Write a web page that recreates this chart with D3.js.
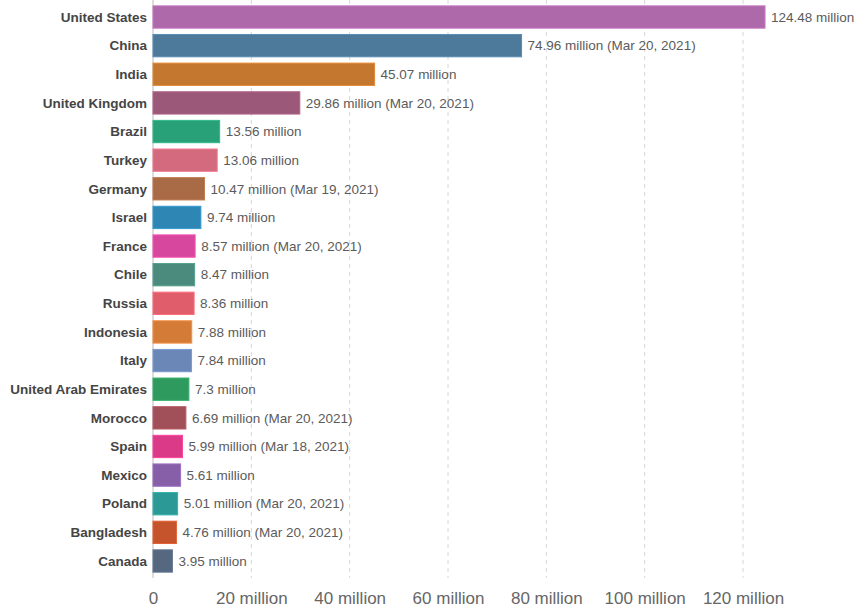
<!DOCTYPE html>
<html><head><meta charset="utf-8">
<script src="https://cdn.jsdelivr.net/npm/d3@7"></script>
<style>body{margin:0;background:#fff}svg{display:block}</style>
</head><body><div id="chart"></div>
<script>
const countries = ["United States","China","India","United Kingdom","Brazil","Turkey","Germany","Israel","France","Chile","Russia","Indonesia","Italy","United Arab Emirates","Morocco","Spain","Mexico","Poland","Bangladesh","Canada"];
const values = [124.48,74.96,45.07,29.86,13.56,13.06,10.47,9.74,8.57,8.47,8.36,7.88,7.84,7.3,6.69,5.99,5.61,5.01,4.76,3.95];
const dates = ["","Mar 20, 2021","","Mar 20, 2021","","","Mar 19, 2021","","Mar 20, 2021","","","","","","Mar 20, 2021","Mar 18, 2021","","Mar 20, 2021","Mar 20, 2021",""];
const colors = ["#ad69aa","#4d7a9b","#c4772f","#9b5878","#28a078","#d36a7e","#a86b45","#2e86b4","#d6479d","#4b8b7d","#e05e6c","#d57b38","#6b87b7","#2e9a5d","#a14f59","#db3a88","#875fa8","#2b9a96","#c5532b","#566880"];
const ticks = [0,20,40,60,80,100,120];

const W = 857, H = 609;
const svg = d3.select("#chart").append("svg").attr("width", W).attr("height", H);
const x = d3.scaleLinear().domain([0,120]).range([153,743]);
const y = d3.scaleBand().domain(countries).range([2.7,575.3]).paddingInner(0.22).paddingOuter(0.11);

// grid
svg.append("g").selectAll("line").data(ticks.slice(1)).join("line")
  .attr("x1", d=>x(d)).attr("x2", d=>x(d)).attr("y1", 0).attr("y2", 578)
  .attr("stroke", "#d6d6d6").attr("stroke-dasharray","4,4").attr("stroke-width",1);
svg.append("line").attr("x1",x(0)).attr("x2",x(0)).attr("y1",0).attr("y2",578)
  .attr("stroke","#bbb").attr("stroke-width",1);

// axis
const ax = d3.axisBottom(x).tickValues(ticks).tickSize(0).tickPadding(0)
  .tickFormat(d => d===0 ? "0" : d + " million");
const axg = svg.append("g").attr("transform","translate(0,592)").call(ax);
axg.select(".domain").remove();
axg.selectAll("text").attr("fill","#666").attr("font-size","17px")
  .attr("font-family","Liberation Sans, Arial, sans-serif").attr("dy","0.71em");

// bars
svg.append("g").selectAll("rect").data(countries).join("rect")
  .attr("x", x(0)).attr("y", d=>y(d)).attr("height", y.bandwidth())
  .attr("width", (d,i)=>x(values[i])-x(0))
  .attr("fill", (d,i)=>colors[i])
  .attr("stroke", (d,i)=>d3.color(colors[i]).brighter(0.4)).attr("stroke-width",1);

// labels
svg.append("g").selectAll("text").data(countries).join("text")
  .attr("x", 147).attr("y", d=>y(d)+y.bandwidth()/2).attr("dy","0.35em")
  .attr("text-anchor","end").attr("font-weight","bold").attr("font-size","13.5px")
  .attr("font-family","Liberation Sans, Arial, sans-serif").attr("fill","#454545")
  .text(d=>d);

svg.append("g").selectAll("text").data(countries).join("text")
  .attr("x", (d,i)=>x(values[i])+6).attr("y", d=>y(d)+y.bandwidth()/2).attr("dy","0.35em")
  .attr("font-size","13.5px").attr("font-family","Liberation Sans, Arial, sans-serif").attr("fill","#5b5b5b")
  .text((d,i)=>values[i] + " million" + (dates[i] ? " (" + dates[i] + ")" : ""));
</script></body></html>
